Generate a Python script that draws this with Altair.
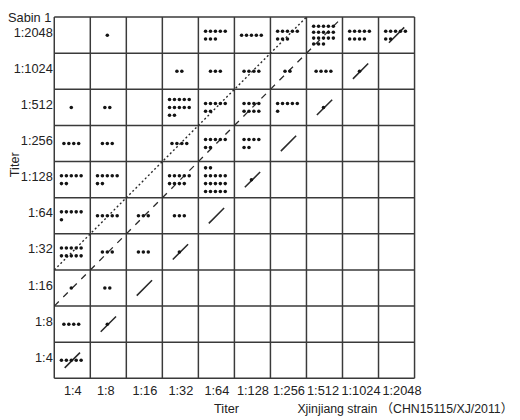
import json
import math
import altair as alt
import pandas as pd

# ---------------- data ----------------
titers = ["1:4", "1:8", "1:16", "1:32", "1:64", "1:128", "1:256", "1:512", "1:1024", "1:2048"]
row_titers = titers[::-1]  # Sabin 1 titer, top row first

# number of sera per cell: rows = Sabin 1 titer (top->bottom), cols = Xinjiang strain titer
counts = [
    [0, 1, 0, 0, 8, 5, 8, 18, 9, 7],    # 1:2048
    [0, 0, 0, 2, 3, 4, 2, 4, 1, 0],     # 1:1024
    [1, 2, 0, 12, 7, 8, 6, 1, 0, 0],    # 1:512
    [4, 3, 0, 4, 7, 6, 0, 0, 0, 0],     # 1:256
    [7, 7, 0, 9, 17, 1, 0, 0, 0, 0],    # 1:128
    [6, 5, 3, 3, 0, 0, 0, 0, 0, 0],     # 1:64
    [10, 3, 3, 1, 0, 0, 0, 0, 0, 0],    # 1:32
    [1, 2, 0, 0, 0, 0, 0, 0, 0, 0],     # 1:16
    [4, 1, 0, 0, 0, 0, 0, 0, 0, 0],     # 1:8
    [5, 0, 0, 0, 0, 0, 0, 0, 0, 0],     # 1:4
]
# cells whose dots are grouped differently from rows of five
row_splits = {
    ("1:512", "1:128"): [4, 4],
    ("1:256", "1:128"): [4, 2],
    ("1:128", "1:64"): [2, 5, 5, 5],
}
# reference diagonals: offset in cells above the equal-titer line
fold_lines = [0, 2, 3]

# ---------------- layout ----------------
W, H = 366, 367
N = len(titers)
cw, ch = W / N, H / N
DX, DY = 5.0, 8.0
FONT = "Liberation Sans, Arial, Noto Sans CJK SC"
FS = 13
INK = "#3a3a3a"

dots = []
for ri, rt in enumerate(row_titers):
    yi = N - 1 - ri
    for ci, ct in enumerate(titers):
        n = counts[ri][ci]
        if n == 0:
            continue
        split = row_splits.get((rt, ct))
        if split is None:
            split = [min(5, n - k) for k in range(0, n, 5)]
        bw = max(split)
        nr = len(split)
        dy = DY if nr < 4 or ri > 0 else 6.0
        for li, m in enumerate(split):
            for k in range(m):
                xp = (ci + 0.5) * cw - 1 + (k - (bw - 1) / 2) * DX
                yp = (yi + 0.5) * ch + ((nr - 1) / 2 - li) * dy
                dots.append({"x": xp / cw, "y": yp / ch})
dots_df = pd.DataFrame(dots)

grid_df = pd.DataFrame(
    [{"x": i, "y": 0, "x2": i, "y2": N} for i in range(N + 1)]
    + [{"x": 0, "y": i, "x2": N, "y2": i} for i in range(N + 1)]
)

label_expr = json.dumps(titers) + "[floor(datum.value)]"
xscale = alt.Scale(domain=[0, N], nice=False, zero=False)
yscale = alt.Scale(domain=[0, N], nice=False, zero=False)
centers = [i + 0.5 for i in range(N)]
x_axis = alt.Axis(values=centers, labelExpr=label_expr, title=None, domain=False,
                  ticks=False, tickSize=0, grid=False, labelPadding=6,
                  labelOverlap=False, labelFlush=False,
                  labelOffset={"condition": [
                      {"test": "datum.value > 9", "value": 5},
                      {"test": "datum.value > 7 && datum.value < 8", "value": -2},
                      {"test": "datum.value > 1 && datum.value < 2", "value": -3},
                  ], "value": 0},
                  labelFontSize=FS, labelFont=FONT, labelColor="#222")
y_axis = alt.Axis(values=centers, labelExpr=label_expr, title=None, domain=False,
                  ticks=False, tickSize=0, grid=False, labelPadding=2,
                  labelOverlap=False, labelFlush=False,
                  labelFontSize=FS, labelFont=FONT, labelColor="#222", labelOffset=-3)

X = alt.X("x:Q", scale=xscale, axis=x_axis)
Y = alt.Y("y:Q", scale=yscale, axis=y_axis)

grid = alt.Chart(grid_df).mark_rule(color=INK, strokeWidth=1.5).encode(
    x=X, y=Y, x2="x2:Q", y2="y2:Q")

diag_len = math.hypot(cw, ch)
styles = {
    0: dict(strokeDash=[22, diag_len - 22], strokeDashOffset=diag_len - 15, strokeWidth=1.6),
    2: dict(strokeDash=[6.5, diag_len / 4 - 6.5], strokeWidth=1.3),
    3: dict(strokeDash=[2, 2.5], strokeWidth=1.4),
}
diag_layers = []
for o in fold_lines:
    ddf = pd.DataFrame([{"x": 0, "y": o, "x2": N - o, "y2": N}])
    diag_layers.append(
        alt.Chart(ddf).mark_rule(color="#2a2a2a", **styles[o]).encode(
            x=X, y=Y, x2="x2:Q", y2="y2:Q"))

pts = alt.Chart(dots_df).mark_circle(size=13, color="#141414", opacity=1).encode(x=X, y=Y)


def label(txt, x, y, angle=0, align="center", fs=FS):
    kw = dict(fontSize=fs, font=FONT, color="#222", align=align, baseline="middle")
    if angle:
        kw["angle"] = angle
    return alt.Chart(pd.DataFrame({"t": [txt]})).mark_text(**kw).encode(
        text="t:N", x=alt.value(x), y=alt.value(y))


texts = [
    label("Sabin 1", -47, 1, align="left"),
    label("Titer", -40, 150, angle=270),
    label("Titer", 175, 398),
    label("Xjinjiang strain （CHN15115/XJ/2011）", 247, 398, align="left", fs=12.5),
]

chart = alt.layer(grid, *diag_layers, pts, *texts).properties(
    width=W, height=H,
    autosize=alt.AutoSizeParams(type="none"),
    padding={"left": 47, "top": 6, "right": 99, "bottom": 35},
).configure_view(stroke=None)

chart.save("out.html", embed_options={"renderer": "svg", "actions": False})
